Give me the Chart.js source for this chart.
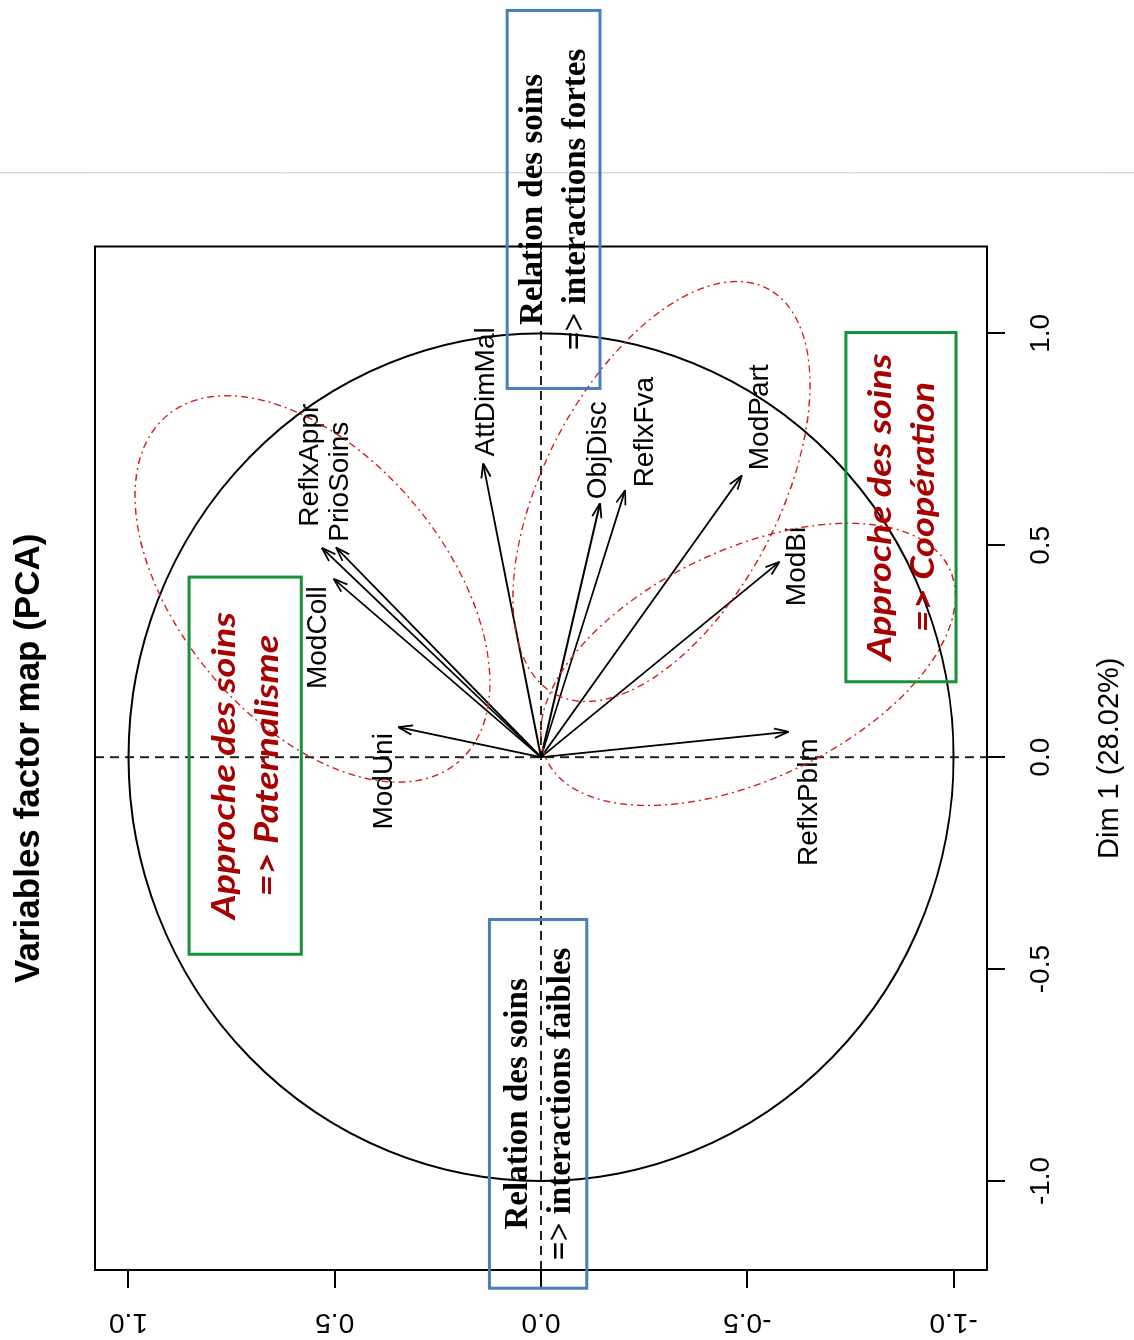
<!DOCTYPE html>
<html>
<head>
<meta charset="utf-8">
<script src="https://cdn.jsdelivr.net/npm/chart.js@4.4.1/dist/chart.umd.min.js"></script>
<style>
  html, body { margin: 0; padding: 0; background: #fff; overflow: hidden; }
  #page { position: relative; width: 1134px; height: 1340px; overflow: hidden; background: #fff; }
  /* the plot is drawn upright, then turned a quarter turn to the left like the scan */
  #pca { position: absolute; left: 0; top: 0; transform-origin: 0 0; transform: translate(0, 1340px) rotate(-90deg); }
</style>
</head>
<body>
<div id="page"><canvas id="pca" width="1340" height="1134"></canvas></div>
<script>
// variable coordinates on the first two dimensions
const varNames = ['AttDimMal', 'ReflxAppr', 'PrioSoins', 'ModColl', 'ModUni', 'ObjDisc', 'ReflxFva', 'ModPart', 'ModBi', 'ReflxPblm'];
const dim1 = [0.693, 0.494, 0.495, 0.421, 0.071, 0.599, 0.630, 0.665, 0.461, 0.060];
const dim2 = [0.140, 0.531, 0.497, 0.503, 0.346, -0.143, -0.204, -0.487, -0.578, -0.600];
// where each name is written, same units
const labelDim1 = [0.862, 0.689, 0.650, 0.282, -0.057, 0.724, 0.767, 0.802, 0.450, -0.106];
const labelDim2 = [0.133, 0.560, 0.487, 0.541, 0.381, -0.138, -0.252, -0.531, -0.621, -0.650];
const axisTicks = [-1, -0.5, 0, 0.5, 1];
const titleText = 'Variables factor map (PCA)';
const dim1Title = 'Dim 1 (28.02%)';

// hand drawn notes on top of the plot (data units)
const noteBoxes = [
  { lines: ['Relation des soins', '=> interactions fortes'], d1: [0.870, 1.762], d2: [0.082, -0.143], kind: 'blue' },
  { lines: ['Relation des soins', '=> interactions faibles'], d1: [-0.383, -1.253], d2: [0.125, -0.111], kind: 'blue' },
  { lines: ['Approche des soins', '=> Paternalisme'], d1: [0.425, -0.465], d2: [0.853, 0.581], kind: 'green' },
  { lines: ['Approche des soins', '=> Coopération'], d1: [1.002, 0.178], d2: [-0.739, -1.006], kind: 'green' }
];
const groupRings = [
  { d1: 0.397, d2: 0.554, a: 0.534, b: 0.313, tilt: 140 },
  { d1: 0.627, d2: -0.292, a: 0.540, b: 0.277, tilt: 27.6 },
  { d1: 0.219, d2: -0.502, a: 0.526, b: 0.271, tilt: 64.6 }
];
const scanLineDim1 = 1.379;

Chart.defaults.font.family = '"Liberation Sans", Arial, sans-serif';

const overlay = {
  id: 'overlay',
  beforeDraw(chart) {
    const ctx = chart.ctx;
    ctx.save();
    ctx.fillStyle = '#fff';
    ctx.fillRect(0, 0, chart.width, chart.height);
    ctx.restore();
  },
  beforeDatasetsDraw(chart) {
    const { ctx, chartArea: ca, scales: { x, y } } = chart;
    const x0 = x.getPixelForValue(0), y0 = y.getPixelForValue(0);
    ctx.save();
    // dashed zero lines
    ctx.strokeStyle = '#222';
    ctx.lineWidth = 2;
    ctx.setLineDash([9, 6]);
    ctx.beginPath();
    ctx.moveTo(ca.left, y0); ctx.lineTo(ca.right, y0);
    ctx.moveTo(x0, ca.top); ctx.lineTo(x0, ca.bottom);
    ctx.stroke();
    // correlation circle
    ctx.setLineDash([]);
    ctx.strokeStyle = '#000';
    ctx.beginPath();
    ctx.ellipse(x0, y0, x.getPixelForValue(1) - x0, y0 - y.getPixelForValue(1), 0, 0, Math.PI * 2);
    ctx.stroke();
    ctx.restore();
  },
  afterDatasetsDraw(chart) {
    const { ctx, chartArea: ca, scales: { x, y } } = chart;
    ctx.save();

    // arrow heads
    ctx.strokeStyle = '#000';
    ctx.lineWidth = 1.8;
    chart.data.datasets.forEach((ds, i) => {
      const pts = chart.getDatasetMeta(i).data;
      const a = Math.atan2(pts[1].y - pts[0].y, pts[1].x - pts[0].x);
      ctx.beginPath();
      [-1, 1].forEach(s => {
        ctx.moveTo(pts[1].x, pts[1].y);
        ctx.lineTo(pts[1].x - 15 * Math.cos(a + s * 0.32), pts[1].y - 15 * Math.sin(a + s * 0.32));
      });
      ctx.stroke();
    });

    // variable names
    ctx.fillStyle = '#000';
    ctx.font = '28px "Liberation Sans", Arial, sans-serif';
    ctx.textAlign = 'center';
    ctx.textBaseline = 'middle';
    varNames.forEach((n, i) => {
      ctx.fillText(n, x.getPixelForValue(labelDim1[i]), y.getPixelForValue(labelDim2[i]));
    });

    // box round the plot
    ctx.lineWidth = 2;
    ctx.strokeRect(ca.left, ca.top, ca.right - ca.left, ca.bottom - ca.top);

    // dim 2 tick labels, written along the axis as R does
    y.ticks.forEach(t => {
      ctx.save();
      ctx.translate(18, y.getPixelForValue(t.value));
      ctx.rotate(-Math.PI / 2);
      ctx.fillText(t.value.toFixed(1), 0, 0);
      ctx.restore();
    });

    // title
    ctx.font = 'bold 35px "Liberation Sans", Arial, sans-serif';
    ctx.fillText(titleText, (ca.left + ca.right) / 2, 29);

    // faint line from the scan
    ctx.strokeStyle = '#c8c8c8';
    ctx.lineWidth = 1;
    const sx = x.getPixelForValue(scanLineDim1);
    ctx.beginPath(); ctx.moveTo(sx, 0); ctx.lineTo(sx, chart.height); ctx.stroke();

    // red dot-dash groupings
    const ux = x.getPixelForValue(1) - x.getPixelForValue(0);
    ctx.strokeStyle = '#d42020';
    ctx.lineWidth = 1.4;
    ctx.setLineDash([2, 4, 7, 4]);
    groupRings.forEach(g => {
      ctx.beginPath();
      ctx.ellipse(x.getPixelForValue(g.d1), y.getPixelForValue(g.d2), g.a * ux, g.b * ux, g.tilt * Math.PI / 180, 0, Math.PI * 2);
      ctx.stroke();
    });
    ctx.setLineDash([]);

    // boxed comments
    noteBoxes.forEach(bx => {
      const l = x.getPixelForValue(Math.min(...bx.d1)), r = x.getPixelForValue(Math.max(...bx.d1));
      const t = y.getPixelForValue(Math.max(...bx.d2)), b = y.getPixelForValue(Math.min(...bx.d2));
      const blue = bx.kind === 'blue';
      ctx.lineWidth = 3;
      ctx.strokeStyle = blue ? '#4a7ebb' : '#17923a';
      ctx.strokeRect(l, t, r - l, b - t);
      ctx.fillStyle = blue ? '#000' : '#a80000';
      ctx.font = blue ? 'bold 33px "Liberation Serif", "Times New Roman", serif' : 'italic bold 32px Lato, sans-serif';
      const cx = (l + r) / 2, cy = (t + b) / 2 + 1;
      const stretch = blue ? 1 : 1.19;
      bx.lines.forEach((txt, k) => {
        ctx.save();
        ctx.translate(cx, cy + (k === 0 ? -21 : 22));
        ctx.scale(stretch, 1);
        ctx.fillText(txt, 0, 0);
        ctx.restore();
      });
    });

    ctx.restore();
  }
};

new Chart(document.getElementById('pca'), {
  type: 'scatter',
  data: {
    datasets: varNames.map((n, i) => ({
      label: n,
      data: [{ x: 0, y: 0 }, { x: dim1[i], y: dim2[i] }],
      showLine: true,
      borderColor: '#000',
      borderWidth: 1.8,
      pointRadius: 0,
      fill: false
    }))
  },
  options: {
    responsive: false,
    animation: false,
    devicePixelRatio: 1,
    clip: false,
    layout: { padding: { left: 0, top: 95, right: 246.5, bottom: 0 } },
    plugins: { legend: { display: false }, tooltip: { enabled: false }, title: { display: false } },
    scales: {
      x: {
        type: 'linear', min: -1.21, max: 1.205,
        afterBuildTicks: s => { s.ticks = axisTicks.map(v => ({ value: v })); },
        afterFit: s => { s.height = 147; },
        border: { display: false },
        grid: { drawOnChartArea: false, drawTicks: true, tickLength: 18, color: '#000', lineWidth: 2 },
        ticks: { color: '#000', font: { size: 28 }, padding: 19, maxRotation: 0, callback: v => Number(v).toFixed(1) },
        title: { display: true, text: dim1Title, color: '#000', font: { size: 29 }, padding: { top: 0, bottom: 7 } }
      },
      y: {
        type: 'linear', min: -1.081, max: 1.081,
        afterBuildTicks: s => { s.ticks = axisTicks.map(v => ({ value: v })); },
        afterFit: s => { s.width = 70; },
        border: { display: false },
        grid: { drawOnChartArea: false, drawTicks: true, tickLength: 18, color: '#000', lineWidth: 2 },
        ticks: { display: false }
      }
    }
  },
  plugins: [overlay]
});
</script>
</body>
</html>
